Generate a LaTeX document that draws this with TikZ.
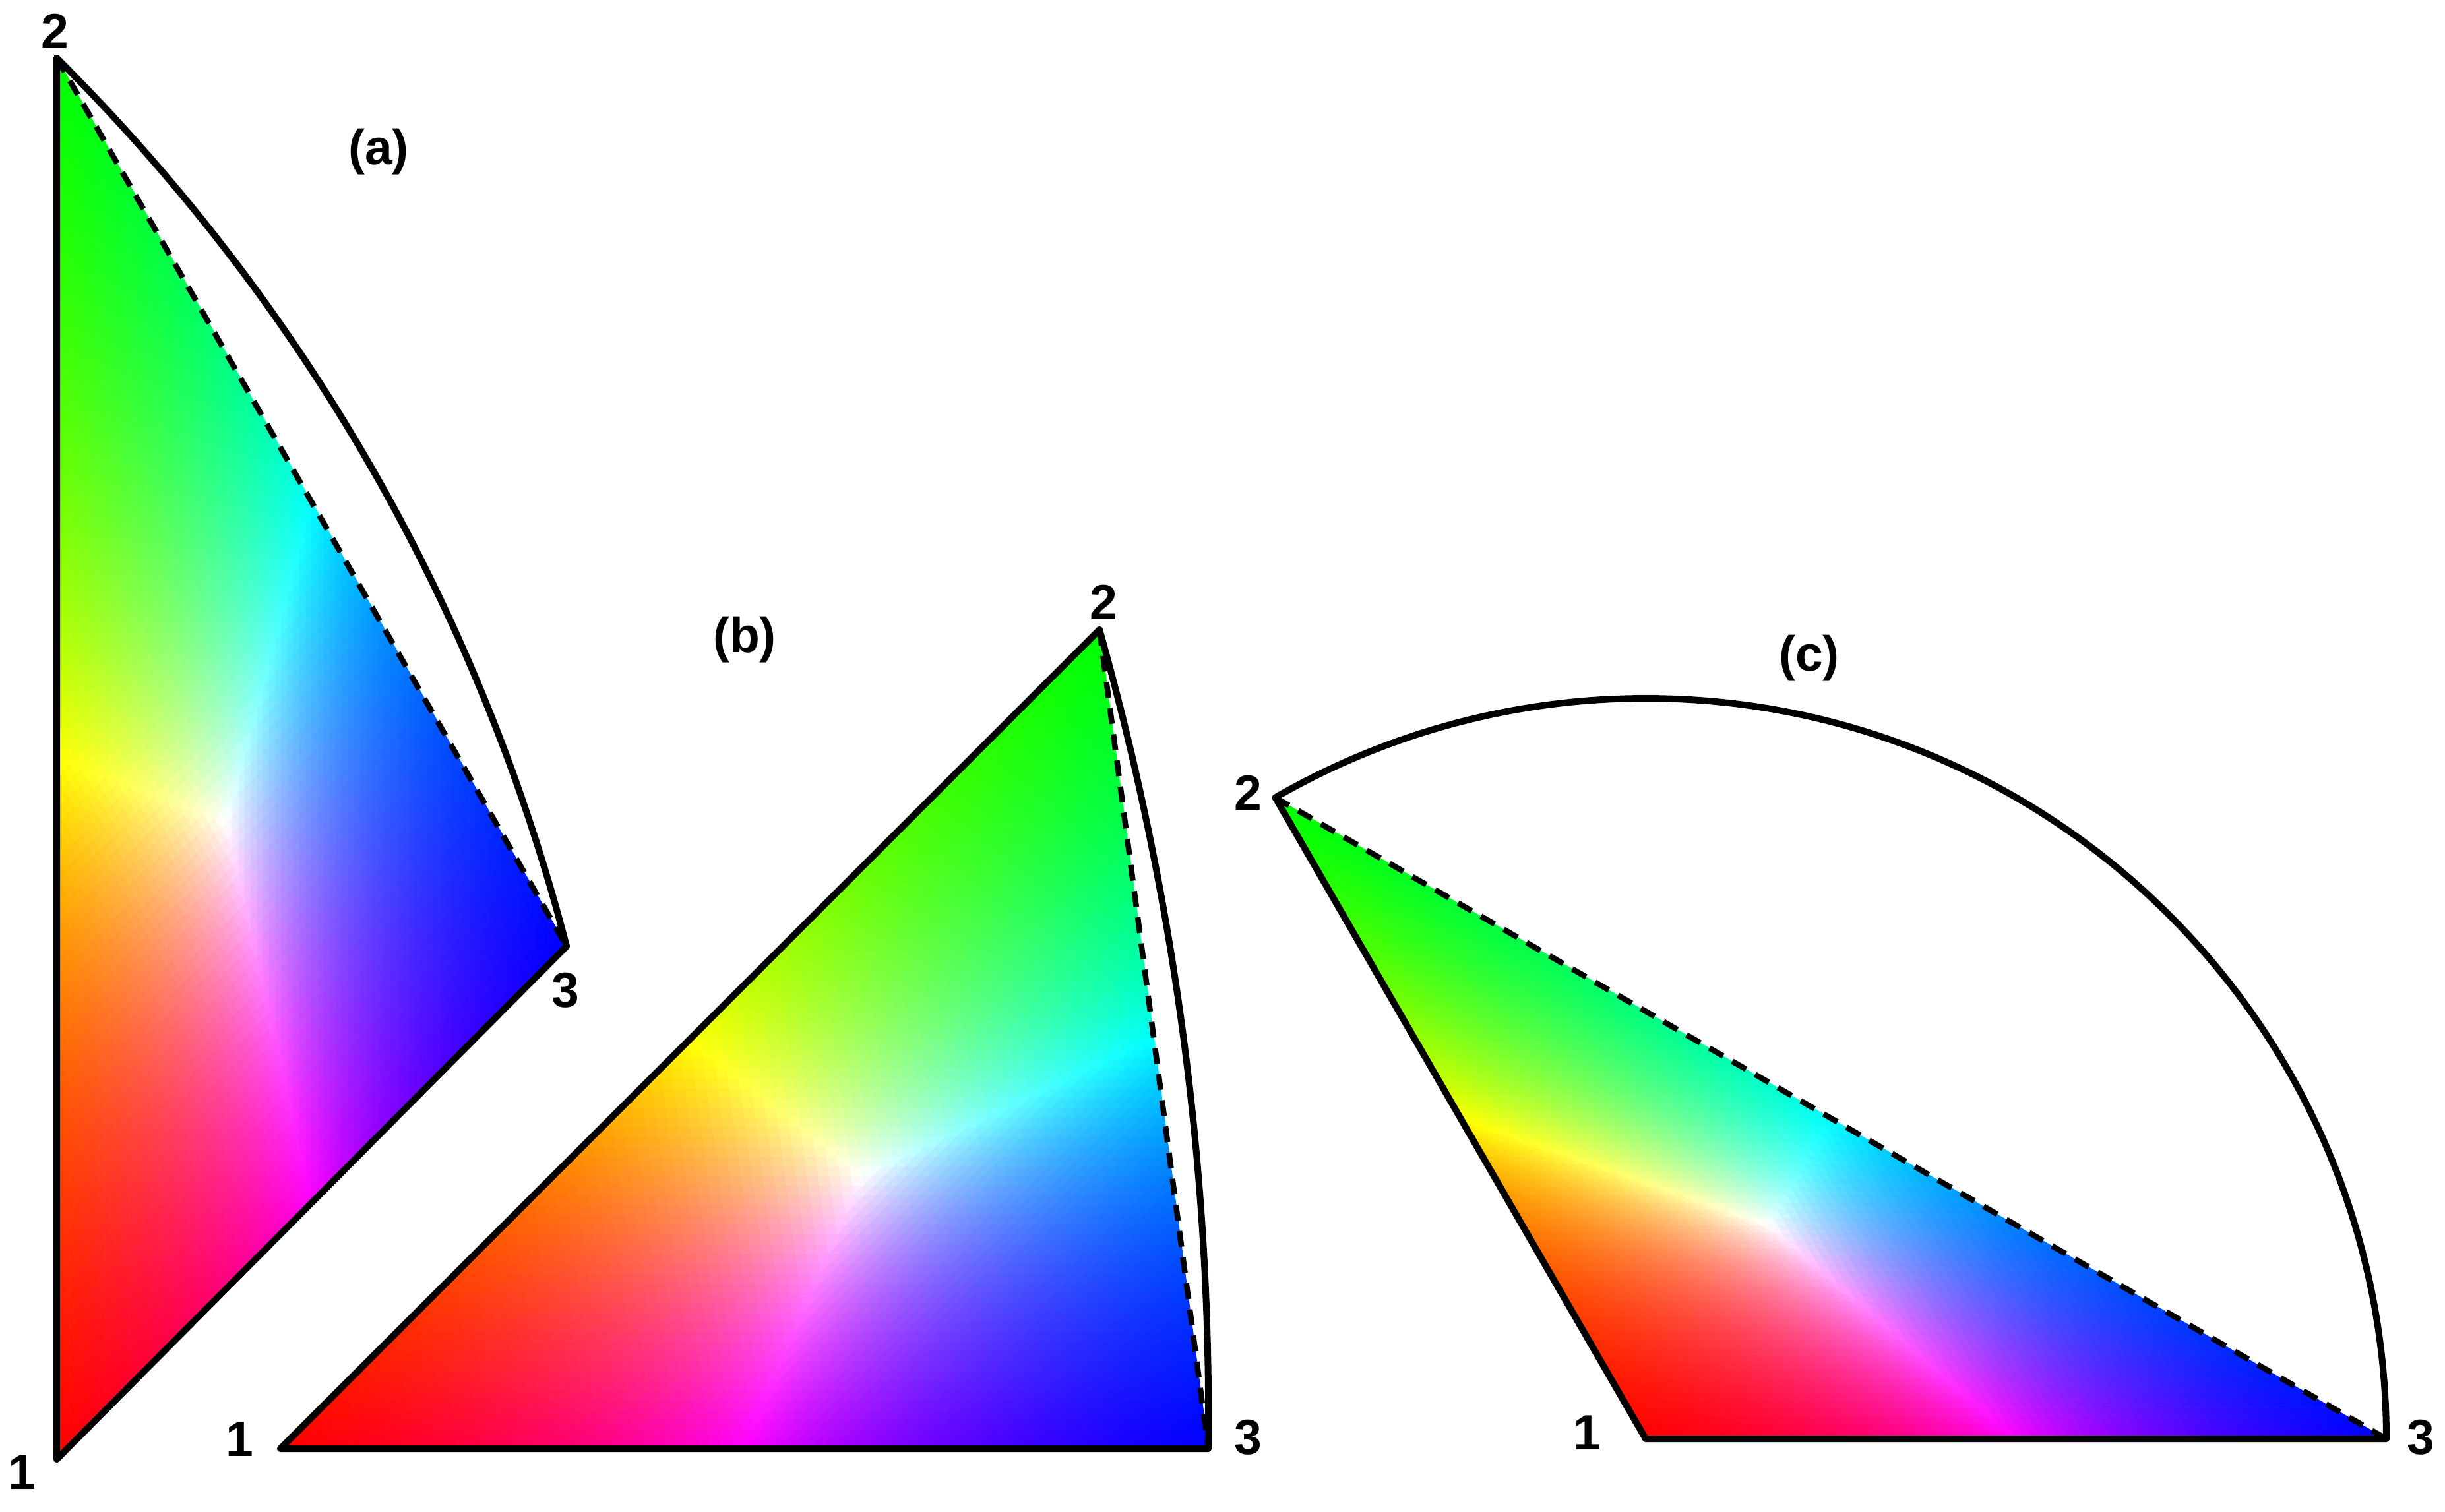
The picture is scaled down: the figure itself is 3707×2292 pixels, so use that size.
\documentclass[tikz,border=0pt]{standalone}
\usepackage{fontspec}
\setmainfont{Liberation Sans}
\usepackage{xfp}
\def\NN{84}
\makeatletter
\newcount\ipfi \newcount\ipfj \newcount\ipfjmax
\newcount\ipfA \newcount\ipfB \newcount\ipfC \newcount\ipfM
\def\ipfk{0.099626401}% picture unit (0.1pt) in bp
\def\ipfsetcol{%
  \ipfM=\ipfA
  \ifnum\ipfB>\ipfM \ipfM=\ipfB\fi
  \ifnum\ipfC>\ipfM \ipfM=\ipfC\fi
  \edef\ipfrgbv{\fpeval{round(\the\ipfA/\the\ipfM,3)} \fpeval{round(\the\ipfB/\the\ipfM,3)} \fpeval{round(\the\ipfC/\the\ipfM,3)}}}
\def\ipfput#1{\edef\ipfx{\noexpand\pgfsys@invoke{#1}}\ipfx}
% #1,#2 = vertex 1 ; #3,#4 = vertex 2 - vertex 1 ; #5,#6 = vertex 3 - vertex 1 (picture units)
\newcommand\ipfmesh[6]{%
  \ipfput{q \fpeval{round(#3*\ipfk/\NN,6)} \fpeval{round(#4*\ipfk/\NN,6)} \fpeval{round(#5*\ipfk/\NN,6)} \fpeval{round(#6*\ipfk/\NN,6)} \fpeval{round(#1*\ipfk,4)} \fpeval{round(#2*\ipfk,4)} cm 0.07 w 1 j}%
  \ipfi=0
  \loop
    \ipfjmax=\numexpr\NN-1-\ipfi\relax
    {\ipfj=0
     \loop
       \ipfA=\numexpr3*\NN-3*\ipfi-3*\ipfj-2\relax
       \ipfB=\numexpr3*\ipfi+1\relax
       \ipfC=\numexpr3*\ipfj+1\relax
       \ipfsetcol
       \ipfput{\ipfrgbv\space rg \ipfrgbv\space RG \the\ipfi\space\the\ipfj\space m \the\numexpr\ipfi+1\relax\space\the\ipfj\space l \the\ipfi\space\the\numexpr\ipfj+1\relax\space l b}%
       \ifnum\ipfj<\ipfjmax
         \ipfA=\numexpr3*\NN-3*\ipfi-3*\ipfj-4\relax
         \ipfB=\numexpr3*\ipfi+2\relax
         \ipfC=\numexpr3*\ipfj+2\relax
         \ipfsetcol
         \ipfput{\ipfrgbv\space rg \ipfrgbv\space RG \the\numexpr\ipfi+1\relax\space\the\ipfj\space m \the\numexpr\ipfi+1\relax\space\the\numexpr\ipfj+1\relax\space l \the\ipfi\space\the\numexpr\ipfj+1\relax\space l b}%
       \fi
       \advance\ipfj by 1
     \ifnum\ipfj<\numexpr\ipfjmax+1\relax\repeat}%
    \advance\ipfi by 1
  \ifnum\ipfi<\NN\relax\repeat
  \ipfput{Q}%
}
\makeatother
\begin{document}
\begin{tikzpicture}[x=0.1pt, y=0.1pt,
  lbl/.style={font=\bfseries\fontsize{7.5}{9}\selectfont, inner sep=0pt},
  edge/.style={line width=1pt, line join=round, line cap=round},
  chord/.style={line width=0.85pt, dash pattern=on 2.4pt off 1.6pt}]
\useasboundingbox[fill=white] (0,0) rectangle (3707,2292);

% vertices
\coordinate (a1) at (86,79);
\coordinate (a2) at (86,2204);
\coordinate (a3) at (859,857);
\coordinate (b1) at (425,95);
\coordinate (b2) at (1667,1337);
\coordinate (b3) at (1832,95);
\coordinate (c1) at (2495,110);
\coordinate (c2) at (1933.5,1082.55);
\coordinate (c3) at (3618,110);

% colour fills (fine triangle meshes)
\ipfmesh{86}{79}{0}{2125}{773}{778}%
\ipfmesh{425}{95}{1242}{1242}{1407}{0}%
\ipfmesh{2495}{110}{-561.5}{972.55}{1123}{0}%

% outlines (a)
\draw[edge] (a2) -- (a1) -- (a3);
\draw[chord] (a2) -- (a3);
\draw[edge] (a2) to[bend left=15.3, looseness=0.87] (a3);
% outlines (b)
\draw[edge] (b2) -- (b1) -- (b3);
\draw[chord] (b2) -- (b3);
\draw[edge] (b2) to[bend left=8.15, looseness=0.86] (b3);
% outlines (c)
\draw[edge] (c2) -- (c1) -- (c3);
\draw[chord] (c2) -- (c3);
\draw[edge] (c3) arc[start angle=0, end angle=120, radius=112.3pt];

% labels
\node[lbl] (la) at (574,2062) {(a)};
\node[lbl] (lb) at (1129,1322) {(b)};
\node[lbl] (lc) at (2743,1294) {(c)};
\node[lbl] (na1) at (33,59) {1};
\node[lbl] (na2) at (83,2245) {2};
\node[lbl] (na3) at (857,790) {3};
\node[lbl] (nb1) at (363,109) {1};
\node[lbl] (nb2) at (1673,1379) {2};
\node[lbl] (nb3) at (1892,112) {3};
\node[lbl] (nc1) at (2406,119) {1};
\node[lbl] (nc2) at (1892,1090) {2};
\node[lbl] (nc3) at (3670,112) {3};
\end{tikzpicture}
\end{document}
